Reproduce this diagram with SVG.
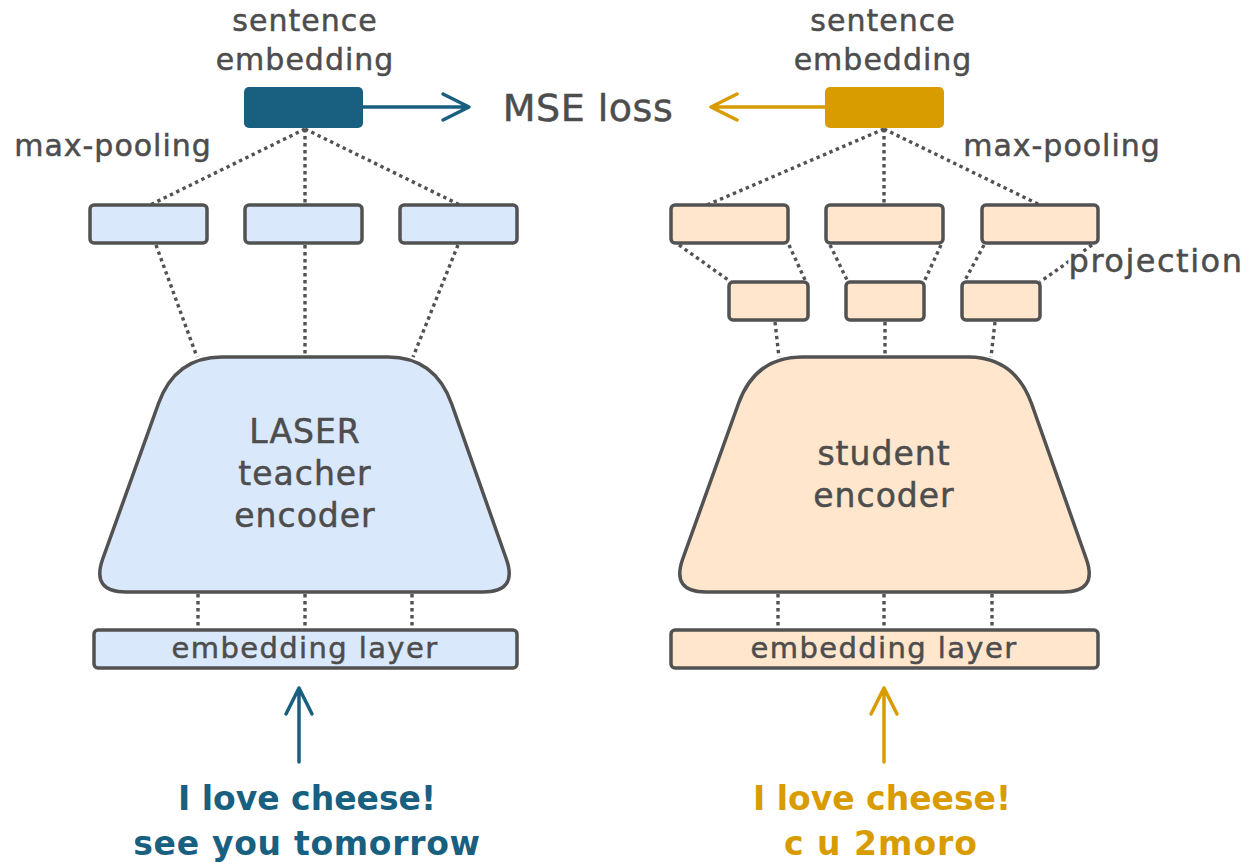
<svg xmlns="http://www.w3.org/2000/svg" width="1250" height="865" viewBox="0 0 1250 865">
<style>
.lbl{font-family:"DejaVu Sans",sans-serif;fill:#4d4d4d;stroke:#4d4d4d;stroke-width:0.5;text-anchor:middle}
.box-b{fill:#dae8fc;stroke:#525252;stroke-width:3.5}
.box-o{fill:#ffe6cc;stroke:#525252;stroke-width:3.5}
.dot{stroke:#525252;stroke-width:3.4;stroke-dasharray:3.4 3.6;fill:none}
.blue{stroke:#185f80;stroke-width:3.5;fill:none;stroke-linecap:round;stroke-linejoin:round}
.gold{stroke:#d89c00;stroke-width:3.5;fill:none;stroke-linecap:round;stroke-linejoin:round}
.in{font-family:"DejaVu Sans",sans-serif;font-weight:bold;font-size:33px;text-anchor:middle}
</style>
<rect width="1250" height="865" fill="#ffffff"/>
<g id="connectors">
  <line class="dot" x1="305" y1="129" x2="150" y2="205"/>
  <line class="dot" x1="305" y1="129" x2="305" y2="205"/>
  <line class="dot" x1="305" y1="129" x2="460" y2="205"/>
  <line class="dot" x1="156" y1="245" x2="197" y2="357"/>
  <line class="dot" x1="305" y1="245" x2="305" y2="357"/>
  <line class="dot" x1="458" y1="245" x2="413" y2="357"/>
  <line class="dot" x1="198" y1="594" x2="198" y2="630"/>
  <line class="dot" x1="305" y1="594" x2="305" y2="630"/>
  <line class="dot" x1="412" y1="594" x2="412" y2="630"/>
  <line class="dot" x1="884" y1="129" x2="707" y2="205"/>
  <line class="dot" x1="884" y1="129" x2="884" y2="205"/>
  <line class="dot" x1="884" y1="129" x2="1040" y2="205"/>
  <line class="dot" x1="679" y1="245" x2="731" y2="282"/>
  <line class="dot" x1="789" y1="245" x2="806" y2="282"/>
  <line class="dot" x1="830" y1="245" x2="848" y2="282"/>
  <line class="dot" x1="941" y1="245" x2="924" y2="282"/>
  <line class="dot" x1="984" y1="245" x2="964" y2="282"/>
  <line class="dot" x1="1092" y1="245" x2="1040" y2="282"/>
  <line class="dot" x1="775" y1="322" x2="779" y2="357"/>
  <line class="dot" x1="885" y1="322" x2="885" y2="357"/>
  <line class="dot" x1="995" y1="322" x2="991" y2="357"/>
  <line class="dot" x1="778" y1="594" x2="778" y2="630"/>
  <line class="dot" x1="884" y1="594" x2="884" y2="630"/>
  <line class="dot" x1="992" y1="594" x2="992" y2="630"/>
  <path class="blue" d="M363 107 H468 M443 94 L469 107 L443 120"/>
  <path class="gold" d="M825 107 H712 M737 94 L711 107 L737 120"/>
  <path class="blue" d="M299 762 V688 M286 714 L299 688 L312 714"/>
  <path class="gold" d="M884 762 V688 M871 714 L884 688 L897 714"/>
</g>
<g id="teacher-embedding">
  <rect x="244" y="87" width="119" height="41" rx="5" fill="#185f80"/>
  <text class="lbl" x="305" y="31" font-size="30" letter-spacing="1">sentence</text>
  <text class="lbl" x="305" y="70" font-size="30" letter-spacing="1">embedding</text>
</g>
<g id="mse-loss">
  <text class="lbl" x="588" y="121" font-size="38" letter-spacing="0.5">MSE loss</text>
</g>
<g id="student-embedding">
  <rect x="825" y="87" width="119" height="41" rx="5" fill="#d89c00"/>
  <text class="lbl" x="883" y="31" font-size="30" letter-spacing="1">sentence</text>
  <text class="lbl" x="883" y="70" font-size="30" letter-spacing="1">embedding</text>
</g>
<g id="label-maxpool-left">
  <text class="lbl" x="113" y="156" font-size="30" letter-spacing="1">max-pooling</text>
</g>
<g id="label-maxpool-right">
  <text class="lbl" x="1062" y="156" font-size="30" letter-spacing="1">max-pooling</text>
</g>
<g id="teacher-tokens">
  <rect class="box-b" x="90" y="205" width="117" height="38" rx="4"/>
  <rect class="box-b" x="245" y="205" width="117" height="38" rx="4"/>
  <rect class="box-b" x="400" y="205" width="117" height="38" rx="4"/>
</g>
<g id="student-tokens">
  <rect class="box-o" x="671" y="205" width="117" height="38" rx="4"/>
  <rect class="box-o" x="826" y="205" width="117" height="38" rx="4"/>
  <rect class="box-o" x="982" y="205" width="116" height="38" rx="4"/>
</g>
<g id="student-projection">
  <rect class="box-o" x="729" y="282" width="79" height="38" rx="4"/>
  <rect class="box-o" x="846" y="282" width="78" height="38" rx="4"/>
  <rect class="box-o" x="962" y="282" width="78" height="38" rx="4"/>
  <text x="1156" y="272" font-size="32" letter-spacing="1.5" font-family="DejaVu Sans, sans-serif" text-anchor="middle" fill="none" stroke="#ffffff" stroke-width="6" stroke-linejoin="round">projection</text>
  <text class="lbl" x="1156" y="272" font-size="32" letter-spacing="1.5">projection</text>
</g>
<g id="teacher-encoder">
  <path class="box-b" d="M222 357 H388 Q435 357 451.7 404 L506.3 559 Q518 592 483 592 H126 Q91 592 102.7 559 L158.3 404 Q175 357 222 357 Z"/>
  <text class="lbl" x="305" y="443" font-size="33" letter-spacing="1">LASER</text>
  <text class="lbl" x="305" y="485" font-size="33" letter-spacing="1">teacher</text>
  <text class="lbl" x="305" y="527" font-size="33" letter-spacing="1">encoder</text>
</g>
<g id="student-encoder">
  <path class="box-o" d="M802 357 H968 Q1015 357 1031.7 404 L1086.3 559 Q1098 592 1063 592 H706 Q671 592 682.7 559 L738.3 404 Q755 357 802 357 Z"/>
  <text class="lbl" x="884" y="465" font-size="33" letter-spacing="1">student</text>
  <text class="lbl" x="884" y="507" font-size="33" letter-spacing="1">encoder</text>
</g>
<g id="teacher-embedding-layer">
  <rect class="box-b" x="94" y="630" width="423" height="38" rx="4" stroke-width="3"/>
  <text class="lbl" x="305" y="658" font-size="29" letter-spacing="1.4">embedding layer</text>
</g>
<g id="student-embedding-layer">
  <rect class="box-o" x="671" y="630" width="427" height="38" rx="4" stroke-width="3"/>
  <text class="lbl" x="884" y="658" font-size="29" letter-spacing="1.4">embedding layer</text>
</g>
<g id="teacher-input">
  <text class="in" x="307" y="810" fill="#185f80">I love cheese!</text>
  <text class="in" x="307" y="855" fill="#185f80" letter-spacing="0.7">see you tomorrow</text>
</g>
<g id="student-input">
  <text class="in" x="882" y="810" fill="#d89c00">I love cheese!</text>
  <text class="in" x="881" y="855" fill="#d89c00" letter-spacing="1">c u 2moro</text>
</g>
</svg>
